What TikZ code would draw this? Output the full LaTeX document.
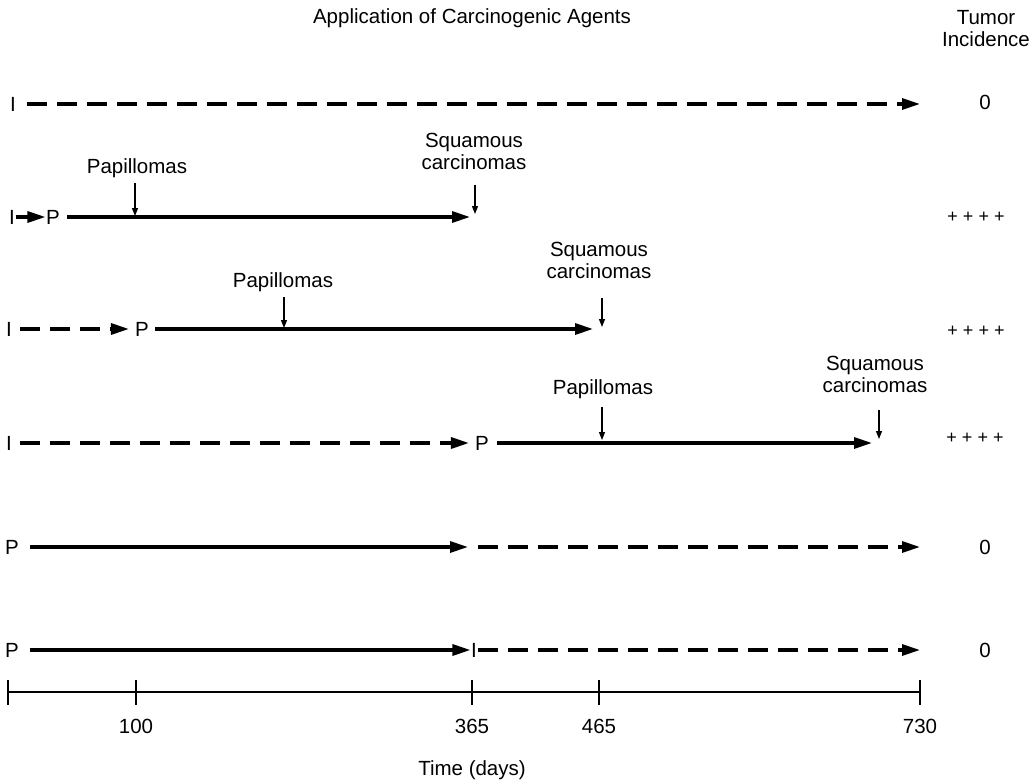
\documentclass[tikz,border=0pt]{standalone}
\usepackage{fontspec}
\setmainfont{Liberation Sans}
\usetikzlibrary{arrows.meta}
\begin{document}
\begin{tikzpicture}[x=1pt,y=-1pt,
  txt/.style={font=\fontsize{20.5}{22}\selectfont, inner sep=0pt, align=center},
  plus/.style={font=\fontsize{18}{20}\selectfont, inner sep=0pt},
  lead/.style={line width=3.2pt, -{Triangle[length=18pt,width=11pt]}},
  leaddash/.style={lead, dash pattern=on 20pt off 10pt},
  pointer/.style={line width=1.3pt, -{Triangle[length=8pt,width=6pt]}},
  axisline/.style={line width=2pt},
  tick/.style={line width=1.3pt}
]
\fill[white] (0,0) rectangle (1036,781);
\useasboundingbox (0,0) rectangle (1036,781);

% headings
\node[txt] (title) at (472,18) {Application of Carcinogenic Agents};
\node[txt] (tumor) at (986,29) {Tumor\\Incidence};

% row 1: initiator only
\node[txt] (i1) at (13,104) {I};
\coordinate (e1) at (920,104);
\draw[leaddash] ([xshift=11pt]i1.east) -- (e1);
\node[txt] (r1) at (985,102) {0};

% row 2: initiator, then promoter at once
\node[txt] (i2) at (12,217) {I};
\node[txt] (p2) at (53,217) {P};
\coordinate (e2) at (470,217);
\draw[lead] ([xshift=0.5pt]i2.east) -- ([xshift=-0.5pt]p2.west);
\draw[lead] ([xshift=7pt]p2.east) -- (e2);
\node[txt, anchor=base] (pap2) at (137,173) {Papillomas};
\coordinate (pp2) at (135,216);
\draw[pointer] (pp2 |- 0,183) -- (pp2);
\node[txt, anchor=south] (sq2) at (474,170) {Squamous\\carcinomas};
\coordinate (sp2) at (475,214);
\draw[pointer] (sp2 |- 0,185) -- (sp2);
\node[plus] (r2) at (976,217) {+ + + +};

% row 3: promoter after 100 days
\node[txt] (i3) at (9,329) {I};
\node[txt] (p3) at (142,329) {P};
\coordinate (e3) at (593,329);
\draw[leaddash] ([xshift=8pt]i3.east) -- ([xshift=-6pt]p3.west);
\draw[lead] ([xshift=6pt]p3.east) -- (e3);
\node[txt, anchor=base] (pap3) at (283,287) {Papillomas};
\coordinate (pp3) at (284,328);
\draw[pointer] (pp3 |- 0,297) -- (pp3);
\node[txt, anchor=south] (sq3) at (599,279) {Squamous\\carcinomas};
\coordinate (sp3) at (602,327);
\draw[pointer] (sp3 |- 0,298) -- (sp3);
\node[plus] (r3) at (976,331) {+ + + +};

% row 4: promoter after 365 days
\node[txt] (i4) at (9,443) {I};
\node[txt] (p4) at (482,443) {P};
\coordinate (e4) at (872,443);
\draw[leaddash] ([xshift=8pt]i4.east) -- ([xshift=-6pt]p4.west);
\draw[lead] ([xshift=8pt]p4.east) -- (e4);
\node[txt, anchor=base] (pap4) at (603,394) {Papillomas};
\coordinate (pp4) at (602,440);
\draw[pointer] (pp4 |- 0,407) -- (pp4);
\node[txt, anchor=south] (sq4) at (875,393) {Squamous\\carcinomas};
\coordinate (sp4) at (879,439);
\draw[pointer] (sp4 |- 0,410) -- (sp4);
\node[plus] (r4) at (975,438) {+ + + +};

% row 5: promoter only
\node[txt] (p5) at (12,547) {P};
\coordinate (m5) at (468,547);
\coordinate (n5) at (478,547);
\coordinate (e5) at (920,547);
\draw[lead] ([xshift=11pt]p5.east) -- (m5);
\draw[leaddash] (n5) -- (e5);
\node[txt] (r5) at (985,547) {0};

% row 6: promoter first, initiator afterwards
\node[txt] (p6) at (12,650) {P};
\node[txt] (i6) at (474,650) {I};
\coordinate (e6) at (920,650);
\draw[lead] ([xshift=11pt]p6.east) -- ([xshift=-0.5pt]i6.west);
\draw[leaddash] ([xshift=1pt]i6.east) -- (e6);
\node[txt] (r6) at (985,650) {0};

% time axis
\coordinate (a0) at (8,692);
\coordinate (a1) at (920,692);
\draw[axisline] (a0) -- (a1);
\foreach \x in {8,136,472,599,920}
  \draw[tick] (\x,680) -- (\x,705);
\node[txt] (t100) at (136,726) {100};
\node[txt] (t365) at (472,726) {365};
\node[txt] (t465) at (599,726) {465};
\node[txt] (t730) at (920,726) {730};
\node[txt] (tlab) at (472,770) {Time (days)};
\end{tikzpicture}
\end{document}
